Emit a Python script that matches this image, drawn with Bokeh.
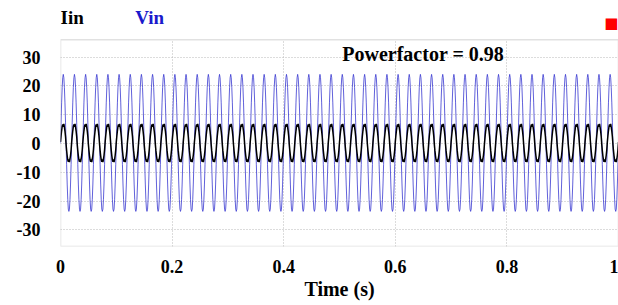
import numpy as np
from bokeh.plotting import figure
from bokeh.models import Label, FixedTicker, Range1d, BoxAnnotation
from bokeh.embed import file_html
from bokeh.resources import INLINE

# ---- data ----
cycles = 50                     # 50 Hz over 1 s
samples_per_cycle = 20
vin_cycle = [0.0, 7.4, 14.1, 19.4, 22.8, 24.0, 22.8, 19.4, 14.1, 7.4,
             0.0, -7.4, -14.1, -19.4, -22.8, -23.6, -22.8, -19.4, -14.1, -7.4]
iin_cycle = [0.5, 2.6, 4.4, 5.9, 6.6, 5.8, 6.8, 5.7, 4.3, 2.4,
             -0.3, -2.5, -4.3, -5.7, -6.4, -5.5, -6.5, -5.4, -4.1, -2.2]
x_ticks = [0, 0.2, 0.4, 0.6, 0.8, 1.0]
x_tick_labels = ["0", "0.2", "0.4", "0.6", "0.8", "1"]
y_ticks = [-30, -20, -10, 0, 10, 20, 30]
y_tick_labels = ["-30", "-20", "-10", "0", "10", "20", "30"]
power_factor_text = "Powerfactor = 0.98"
legend_names = ["Iin", "Vin"]

# plotting window of the scope (axis box) and room above it for the legend
box_bottom, box_top = -35.8, 36.0
view_top = 49.66

vin = np.array(vin_cycle * cycles + [vin_cycle[0]])
iin = np.array(iin_cycle * cycles + [iin_cycle[0]])
t = np.arange(len(vin)) / (cycles * samples_per_cycle)

FONT = "Liberation Serif"

p = figure(width=618, height=305, output_backend="svg", toolbar_location=None,
           x_range=Range1d(0, 1.0), y_range=Range1d(box_bottom, view_top),
           min_border_left=60, min_border_right=0, min_border_top=0,
           min_border_bottom=59)
p.outline_line_color = None

p.xgrid.ticker = FixedTicker(ticks=x_ticks)
p.ygrid.ticker = FixedTicker(ticks=y_ticks)
p.xgrid.cross_bounds = (box_bottom, box_top)
p.ygrid.cross_bounds = (0, 1.0)
for g in (p.xgrid[0], p.ygrid[0]):
    g.grid_line_color = "#b8b8b8"
    g.grid_line_dash = "1 2"
    g.grid_line_width = 1

p.line(t, vin, line_color="#3838d0", line_width=0.8)
p.line(t, iin, line_color="black", line_width=1.5)

p.add_layout(BoxAnnotation(left=0, right=None, bottom=box_bottom, top=box_top,
                           fill_alpha=0, fill_color=None,
                           line_color="#9a9a9a", line_width=1.5, level="overlay"))

for ax in (p.xaxis[0], p.yaxis[0]):
    ax.axis_line_color = None
    ax.major_tick_line_color = None
    ax.minor_tick_line_color = None
    ax.major_tick_out = 0
    ax.major_tick_in = 0
    ax.major_label_text_font = FONT
    ax.major_label_text_font_style = "bold"
    ax.major_label_text_font_size = "18px"
    ax.major_label_text_color = "black"

p.xaxis.ticker = FixedTicker(ticks=x_ticks)
p.xaxis.major_label_overrides = {v: s for v, s in zip(x_ticks, x_tick_labels)}
p.yaxis.ticker = FixedTicker(ticks=y_ticks)
p.yaxis.major_label_overrides = {v: s for v, s in zip(y_ticks, y_tick_labels)}
p.xaxis.major_label_standoff = 13
p.yaxis.major_label_standoff = 20

p.xaxis.axis_label = "Time (s)"
p.xaxis.axis_label_text_font = FONT
p.xaxis.axis_label_text_font_style = "bold"
p.xaxis.axis_label_text_font_size = "20px"
p.xaxis.axis_label_text_color = "black"
p.xaxis.axis_label_standoff = 2

p.add_layout(Label(x=0.505, y=31.2, text=power_factor_text, text_font=FONT,
                   text_font_style="bold", text_font_size="20px",
                   text_color="black", text_baseline="middle", text_align="left"))
p.add_layout(Label(x=0.0, y=43.9, text=legend_names[0], text_font=FONT,
                   text_font_style="bold", text_font_size="19px",
                   text_color="black", text_baseline="middle", text_align="left"))
p.add_layout(Label(x=0.134, y=43.9, text=legend_names[1], text_font=FONT,
                   text_font_style="bold", text_font_size="19px",
                   text_color="#1a1acc", text_baseline="middle", text_align="left"))
p.add_layout(Label(x=1.0, y=42.0, text="\u25A0", text_font="DejaVu Sans",
                   text_font_size="15px", text_color="red",
                   text_baseline="middle", text_align="right"))

open("out.html", "w").write(file_html(p, INLINE))
